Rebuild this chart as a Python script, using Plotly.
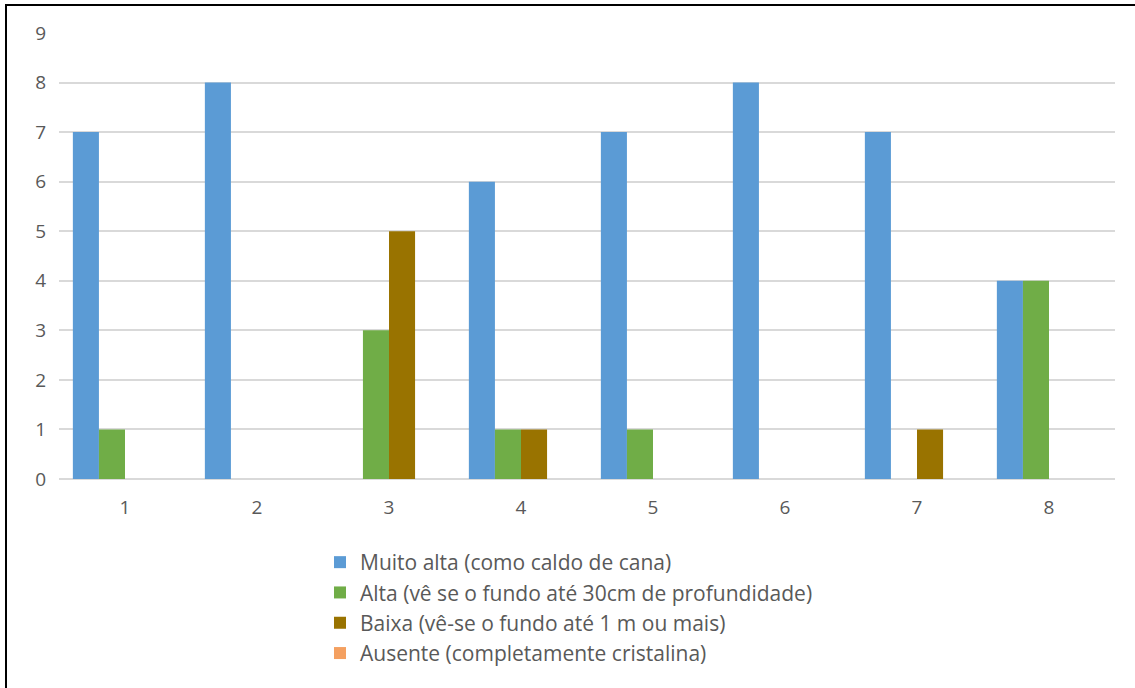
import plotly.graph_objects as go

categories = ["1", "2", "3", "4", "5", "6", "7", "8"]
series_names = [
    "Muito alta (como caldo de cana)",
    "Alta (vê se o fundo até 30cm de profundidade)",
    "Baixa (vê-se o fundo até 1 m ou mais)",
    "Ausente (completamente cristalina)",
]
muito_alta = [7, 8, 0, 6, 7, 8, 7, 4]
alta = [1, 0, 3, 1, 1, 0, 0, 4]
baixa = [0, 0, 5, 1, 0, 0, 1, 0]
ausente = [0, 0, 0, 0, 0, 0, 0, 0]
colors = ["#5B9BD5", "#70AD47", "#997300", "#F4A060"]
y_ticks = list(range(0, 10))

W, H = 1135, 688
L, R, T, B = 59, 1115, 33, 479  # plot area in pixels
pw, ph = R - L, B - T

fig = go.Figure()
for i, (name, vals) in enumerate(zip(series_names, [muito_alta, alta, baixa, ausente])):
    fig.add_trace(go.Bar(
        x=categories, y=vals, name=name,
        marker=dict(color=colors[i], line=dict(width=0)),
    ))

def px_x(p):
    return (p - L) / pw

def px_y(p):
    return (B - p) / ph

fig.update_layout(
    width=W, height=H,
    margin=dict(l=L, r=W - R, t=T, b=H - B, pad=0),
    paper_bgcolor="white", plot_bgcolor="white",
    barmode="group", bargap=0.21, bargroupgap=0,
    font=dict(family="Open Sans, sans-serif", size=19, color="#595959"),
    showlegend=True,
    legend=dict(
        orientation="v", x=px_x(320), xanchor="left", y=px_y(542), yanchor="top",
        font=dict(size=21, color="#595959"),
        bgcolor="rgba(0,0,0,0)", traceorder="normal",
    ),
    xaxis=dict(
        type="category", showgrid=False, showline=False, zeroline=False,
        ticks="", ticklabelstandoff=15, tickfont=dict(size=19, color="#595959"),
    ),
    yaxis=dict(
        range=[0, 9], tickvals=y_ticks, showgrid=True, gridcolor="#D9D9D9",
        gridwidth=1.5, zeroline=True, zerolinecolor="#D9D9D9", zerolinewidth=1.5,
        showline=False, ticks="", ticklabelstandoff=12,
        tickfont=dict(size=19, color="#595959"),
    ),
    shapes=[
        dict(type="line", xref="paper", yref="paper",
             x0=px_x(5), x1=px_x(W + 5), y0=px_y(5), y1=px_y(5),
             line=dict(color="black", width=2)),
        dict(type="line", xref="paper", yref="paper",
             x0=px_x(6), x1=px_x(6), y0=px_y(5), y1=px_y(H + 5),
             line=dict(color="black", width=2)),
    ],
)

fig.write_html("out.html")
